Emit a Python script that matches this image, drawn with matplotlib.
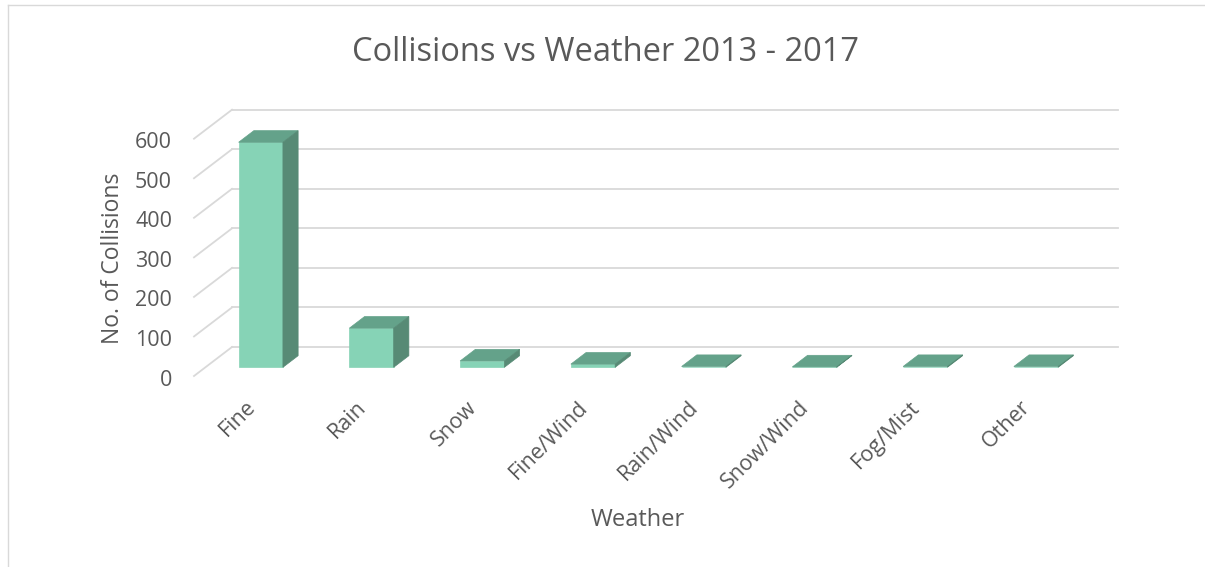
import matplotlib
matplotlib.use("Agg")
import matplotlib.pyplot as plt
from matplotlib.patches import Polygon
from matplotlib.lines import Line2D
import matplotlib.transforms as mtransforms

categories = ["Fine", "Rain", "Snow", "Fine/Wind", "Rain/Wind", "Snow/Wind", "Fog/Mist", "Other"]
collisions = [569, 99, 16, 8, 2, 1, 2, 2]
yticks = [0, 100, 200, 300, 400, 500, 600]

title = "Collisions vs Weather 2013 - 2017"
xlabel = "Weather"
ylabel = "No. of Collisions"

FRONT = "#86D3B6"
TOP = "#64A28A"
SIDE = "#578A75"
GRID = "#D9D9D9"
TEXT = "#595959"

plt.rcParams['font.family'] = ['Open Sans', 'DejaVu Sans']

W, H, DPI = 1205, 567, 100
fig = plt.figure(figsize=(W / DPI, H / DPI), dpi=DPI)

# axes = front plane of the pseudo-3D box
L, R, B, T = 194, 1080, 376, 138.7
ax = fig.add_axes([L / W, 1 - B / H, (R - L) / W, (B - T) / H])
n = len(categories)
ax.set_xlim(-0.5, n - 0.5)
ax.set_ylim(yticks[0], yticks[-1])
ax.axis('off')

# depth vector (pixels, right/up) converted to data units
depth_px = (38.0, 29.0)
px_per_x = (R - L) / n
px_per_y = (B - T) / (yticks[-1] - yticks[0])
Dx = depth_px[0] / px_per_x
Dy = depth_px[1] / px_per_y

# back wall gridlines and side-wall diagonals
for v in yticks:
    ax.add_line(Line2D([-0.5 + Dx, n - 0.5 + Dx], [v + Dy, v + Dy], color=GRID, lw=1.3,
                       clip_on=False, zorder=1))
    ax.add_line(Line2D([-0.5, -0.5 + Dx], [v, v + Dy], color=GRID, lw=1.3,
                       clip_on=False, zorder=1))

# bars
bw = 0.4
f0 = 0.3  # bar front depth fraction
bd = 0.4  # bar depth fraction
xs = [i + f0 * Dx for i in range(n)]
base = f0 * Dy
ax.bar(xs, collisions, width=bw, bottom=base, color=FRONT, edgecolor=FRONT, lw=0.5,
       clip_on=False, zorder=3)
for x, v in zip(xs, collisions):
    x0 = x - bw / 2
    x1 = x + bw / 2
    ddx, ddy = bd * Dx, bd * Dy
    top = Polygon([(x0, base + v), (x1, base + v), (x1 + ddx, base + v + ddy), (x0 + ddx, base + v + ddy)],
                  closed=True, facecolor=TOP, edgecolor=TOP, lw=0.5, clip_on=False, zorder=3)
    side = Polygon([(x1, base), (x1 + ddx, base + ddy), (x1 + ddx, base + v + ddy), (x1, base + v)],
                   closed=True, facecolor=SIDE, edgecolor=SIDE, lw=0.5, clip_on=False, zorder=3)
    ax.add_patch(top)
    ax.add_patch(side)

# y tick labels on front plane
off_y = mtransforms.ScaledTranslation(-22 / DPI, -4 / DPI, fig.dpi_scale_trans)
for v in yticks:
    ax.text(-0.5, v, str(v), transform=ax.transData + off_y, ha='right', va='center',
            fontsize=15.5, color=TEXT)

# category labels
off_x = mtransforms.ScaledTranslation(3 / DPI, -28 / DPI, fig.dpi_scale_trans)
for i, c in enumerate(categories):
    ax.text(i, 0, c, transform=ax.transData + off_x, ha='right', va='center', rotation=45,
            rotation_mode='anchor', fontsize=15.5, color=TEXT)

fig.text(605 / W, 1 - 61 / H, title, ha='center', va='baseline', fontsize=23.5, color=TEXT)
fig.text(638 / W, 1 - 520 / H, xlabel, ha='center', va='center', fontsize=17, color=TEXT)
fig.text(113 / W, 1 - 258 / H, ylabel, ha='center', va='center', rotation=90, fontsize=16.5, color=TEXT)

# chart border (top and left visible)
fig.add_artist(Line2D([8 / W, 1.0], [1 - 5 / H, 1 - 5 / H], color=GRID, lw=1.0))
fig.add_artist(Line2D([8 / W, 8 / W], [0.0, 1 - 5 / H], color=GRID, lw=1.0))

fig.savefig("out.png", dpi=DPI)
